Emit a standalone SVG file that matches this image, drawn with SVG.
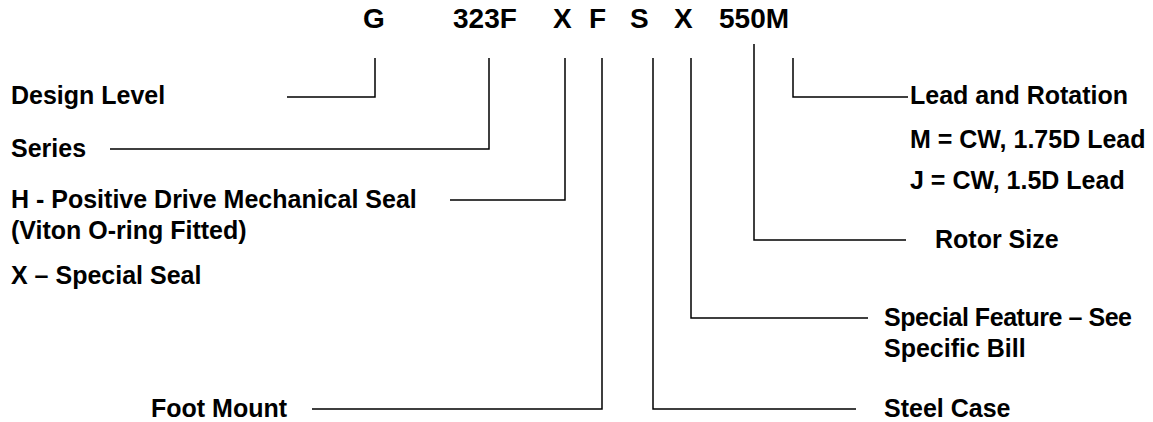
<svg xmlns="http://www.w3.org/2000/svg" width="1153" height="422" viewBox="0 0 1153 422">
<style>
text{font-family:"Liberation Sans",Arial,sans-serif;font-weight:bold;fill:#000}
.code{font-size:28px}
.lbl{font-size:25px}
.conn path{fill:none;stroke:#000;stroke-width:1.5}
</style>
<rect width="1153" height="422" fill="#fff"/>
<g id="code">
<text class="code" x="363" y="28">G</text>
<text class="code" x="453" y="28">323F</text>
<text class="code" x="553" y="28">X</text>
<text class="code" x="589" y="28">F</text>
<text class="code" x="630" y="28">S</text>
<text class="code" x="674" y="28">X</text>
<text class="code" x="719" y="28">550M</text>
</g>
<g class="conn" id="connectors">
<path d="M375,58V97H287"/>
<path d="M489,58V149H110"/>
<path d="M565,58V200H450"/>
<path d="M602,58V409H312"/>
<path d="M653,58V409H856"/>
<path d="M691,58V318H868"/>
<path d="M754,44V240H906"/>
<path d="M793,58V97H908"/>
</g>
<g id="design-level"><text class="lbl" x="11" y="104">Design Level</text></g>
<g id="series"><text class="lbl" x="11" y="157">Series</text></g>
<g id="seal">
<text class="lbl" x="11" y="208">H - Positive Drive Mechanical Seal</text>
<text class="lbl" x="11" y="239">(Viton O-ring Fitted)</text>
<text class="lbl" x="11" y="284">X – Special Seal</text>
</g>
<g id="foot-mount"><text class="lbl" x="151" y="417">Foot Mount</text></g>
<g id="lead">
<text class="lbl" x="910" y="104">Lead and Rotation</text>
<text class="lbl" x="910" y="148">M = CW, 1.75D Lead</text>
<text class="lbl" x="910" y="189">J = CW, 1.5D Lead</text>
</g>
<g id="rotor-size"><text class="lbl" x="935" y="248">Rotor Size</text></g>
<g id="special-feature">
<text class="lbl" x="884" y="326" textLength="248">Special Feature – See</text>
<text class="lbl" x="884" y="357">Specific Bill</text>
</g>
<g id="steel-case"><text class="lbl" x="884" y="417">Steel Case</text></g>
</svg>
